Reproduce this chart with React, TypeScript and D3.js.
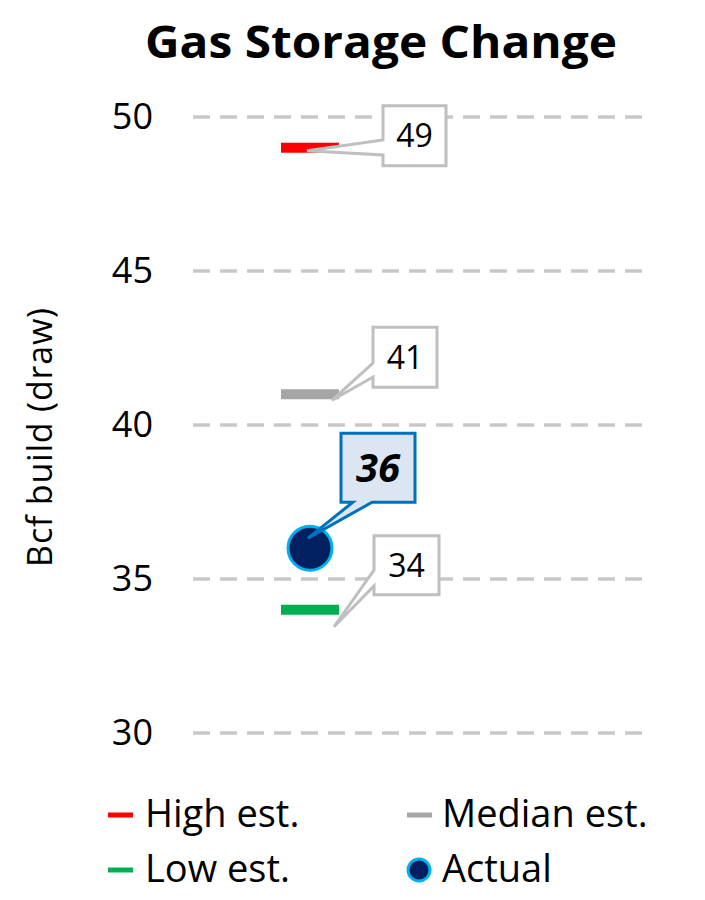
import React from "react";
import * as d3 from "d3";

// Weekly gas storage change: analyst estimate range vs. reported figure
const seriesNames = ["High est.", "Median est.", "Low est.", "Actual"];
const seriesValues = [49, 41, 34, 36];
const seriesColors = ["#ff0000", "#a6a6a6", "#00b050", "#002060"];
const yTicks = [30, 35, 40, 45, 50];

const W = 705;
const H = 900;
const FONT = "'Open Sans', 'Noto Sans', sans-serif";

type Callout = {
  box: [number, number, number, number]; // x offset, y offset, width, height (relative to mark)
  tip: [number, number]; // pointer tip relative to mark
  edge: "left" | "bottom";
  gap: [number, number]; // pointer base along the edge, fractions
};

// callout geometry per series, relative to the mark position
const callouts: Callout[] = [
  { box: [73, -42, 63, 60], tip: [-3, 3], edge: "left", gap: [0.57, 0.82] },
  { box: [63, -67, 64, 60], tip: [22, 6], edge: "left", gap: [0.6, 0.83] },
  { box: [64, -74, 65, 59], tip: [24, 17], edge: "left", gap: [0.58, 0.85] },
  { box: [31, -115, 74, 69], tip: [-2, -10], edge: "bottom", gap: [0.16, 0.42] },
];

function calloutPath(x: number, y: number, w: number, h: number, c: Callout, tx: number, ty: number) {
  const [g0, g1] = c.gap;
  if (c.edge === "left") {
    return `M${x},${y} L${x + w},${y} L${x + w},${y + h} L${x},${y + h} L${x},${y + h * g1} L${tx},${ty} L${x},${y + h * g0} Z`;
  }
  return `M${x},${y} L${x + w},${y} L${x + w},${y + h} L${x + w * g1},${y + h} L${tx},${ty} L${x + w * g0},${y + h} L${x},${y + h} Z`;
}

export default function App() {
  const y = d3.scaleLinear().domain([30, 50]).range([733, 117]);
  const cx = 310;
  const half = 29;

  return (
    <svg
      width={W}
      height={H}
      style={{ position: "absolute", left: 0, top: 0, background: "#fff" }}
      fontFamily={FONT}
    >
      <text
        x={145}
        y={58}
        fontSize={44}
        fontWeight={700}
        fill="#000"
        textLength={472}
        lengthAdjust="spacingAndGlyphs"
      >
        Gas Storage Change
      </text>

      {yTicks.map((t) => (
        <g key={t}>
          <line
            x1={193}
            x2={650}
            y1={y(t)}
            y2={y(t)}
            stroke="#c8c8c8"
            strokeWidth={3.5}
            strokeDasharray="17,10"
          />
          <text x={153} y={y(t) + 12} textAnchor="end" fontSize={36} fill="#000">
            {t}
          </text>
        </g>
      ))}

      <text
        transform={`translate(52,${y(40) + 12}) rotate(-90)`}
        textAnchor="middle"
        fontSize={34}
        letterSpacing={0.8}
        fill="#000"
      >
        Bcf build (draw)
      </text>

      {seriesValues.map((v, i) => {
        const my = y(v);
        if (i === 3) {
          return (
            <circle key={i} cx={cx} cy={my} r={22} fill={seriesColors[i]} stroke="#00b0f0" strokeWidth={3} />
          );
        }
        return (
          <line key={i} x1={cx - half} x2={cx + half} y1={my} y2={my} stroke={seriesColors[i]} strokeWidth={10} />
        );
      })}

      {seriesValues.map((v, i) => {
        const c = callouts[i];
        const my = y(v);
        const bx = cx + c.box[0];
        const by = my + c.box[1];
        const bw = c.box[2];
        const bh = c.box[3];
        const actual = i === 3;
        return (
          <g key={"c" + i}>
            <path
              d={calloutPath(bx, by, bw, bh, c, cx + c.tip[0], my + c.tip[1])}
              fill={actual ? "#dce6f2" : "#fff"}
              stroke={actual ? "#0070c0" : "#bfbfbf"}
              strokeWidth={3}
              strokeLinejoin="miter"
            />
            <text
              x={bx + bw / 2}
              y={by + bh / 2}
              dy="0.36em"
              textAnchor="middle"
              fontSize={actual ? 40 : 32}
              fontWeight={actual ? 700 : 400}
              fontStyle={actual ? "italic" : "normal"}
              fill="#000"
            >
              {v}
            </text>
          </g>
        );
      })}

      {seriesNames.map((name, i) => {
        const col = i % 2 === 0 ? 0 : 1;
        const row = i === 0 || i === 1 ? 0 : 1;
        const lx = col === 0 ? 108 : 407;
        const ly = row === 0 ? 815 : 870;
        return (
          <g key={"l" + i}>
            {i === 3 ? (
              <circle cx={lx + 12} cy={ly} r={11} fill={seriesColors[i]} stroke="#00b0f0" strokeWidth={3} />
            ) : (
              <line x1={lx} x2={lx + 25} y1={ly} y2={ly} stroke={seriesColors[i]} strokeWidth={5} />
            )}
            <text x={lx + (col === 0 ? 37 : 35)} y={ly + 12} fontSize={38} fill="#000">
              {name}
            </text>
          </g>
        );
      })}
    </svg>
  );
}
